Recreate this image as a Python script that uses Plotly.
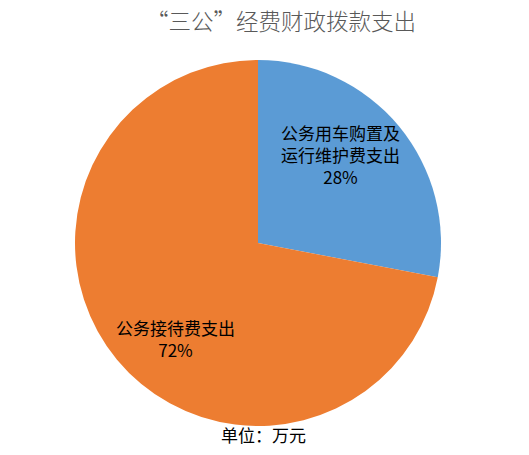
import plotly.graph_objects as go

title_text = "“三公”经费财政拨款支出"
categories = ["公务用车购置及<br>运行维护费支出", "公务接待费支出"]
values = [28, 72]
colors = ["#5B9BD5", "#ED7D31"]
unit_text = "单位：万元"

W, H = 529, 455
OFF = 8  # page body margin offset (page pixels -> figure pixels)
cx, cy, r = 258 - OFF, 243 - OFF, 183

fig = go.Figure(go.Pie(
    labels=categories,
    values=values,
    sort=False,
    direction="clockwise",
    rotation=0,
    marker=dict(colors=colors, line=dict(width=0)),
    textinfo="none",
    domain=dict(x=[(cx - r) / W, (cx + r) / W], y=[1 - (cy + r) / H, 1 - (cy - r) / H]),
    showlegend=False,
    hoverinfo="label+percent",
))

total = sum(values)
label_pos = [(340, 155), (175, 338)]
annotations = []
for name, v, (lx, ly) in zip(categories, values, label_pos):
    annotations.append(dict(
        text=f"{name}<br>{round(100 * v / total)}%",
        x=(lx - OFF) / W, y=1 - (ly - OFF) / H, xref="paper", yref="paper",
        showarrow=False, xanchor="center", yanchor="middle",
        font=dict(size=17, color="#000000", family="Noto Sans CJK SC"),
    ))
annotations.append(dict(text=unit_text, x=(263 - OFF) / W, y=1 - (434 - OFF) / H,
                        xref="paper", yref="paper",
                        showarrow=False, xanchor="center", yanchor="middle",
                        font=dict(size=17, color="#000000", family="Noto Sans CJK SC")))

fig.update_layout(
    width=W, height=H,
    margin=dict(l=0, r=0, t=0, b=0),
    paper_bgcolor="white",
    plot_bgcolor="white",
    title=dict(text=title_text, x=(281 - OFF) / W, xanchor="center", y=1 - (22 - OFF) / H,
               yanchor="middle",
               font=dict(size=22.5, color="#595959", family="Noto Sans CJK SC", weight=300)),
    annotations=annotations,
)

fig.write_html("out.html")
